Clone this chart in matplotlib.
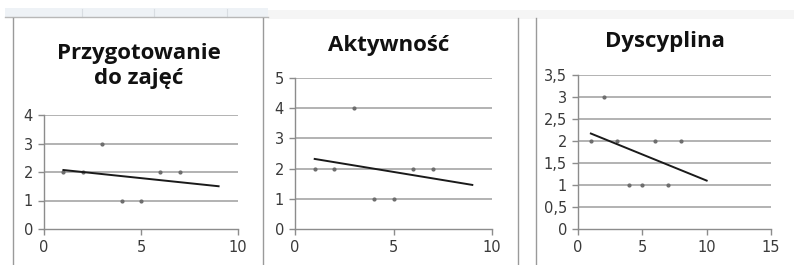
import matplotlib.pyplot as plt
from matplotlib.patches import Rectangle
from matplotlib.lines import Line2D
from matplotlib.ticker import FuncFormatter

# data
titles = ['Przygotowanie\ndo zajęć', 'Aktywność', 'Dyscyplina']

x1 = [1, 2, 3, 4, 5, 6, 7]
y1 = [2, 2, 3, 1, 1, 2, 2]
trend1_x = [1, 9]
trend1_y = [2.07, 1.5]

x2 = [1, 2, 3, 4, 5, 6, 7]
y2 = [2, 2, 4, 1, 1, 2, 2]
trend2_x = [1, 9]
trend2_y = [2.32, 1.46]

x3 = [1, 2, 3, 4, 5, 6, 7, 8]
y3 = [2, 3, 2, 1, 1, 2, 1, 2]
trend3_x = [1, 10]
trend3_y = [2.17, 1.1]

W, H = 794, 265
fig = plt.figure(figsize=(W/100, H/100), dpi=100)
fig.patch.set_facecolor('white')

def px(x0, x1_, ytop, ybot):
    return [x0/W, (H-ybot)/H, (x1_-x0)/W, (ybot-ytop)/H]

#excel sheet bits on top + chart frames
fig.add_artist(Rectangle((5/W, 1-17/H), 263/W, 9/H, transform=fig.transFigure, fc='#eef2f6', ec='none'))
fig.add_artist(Rectangle((268/W, 1-19/H), 526/W, 9/H, transform=fig.transFigure, fc='#f5f5f5', ec='none'))
for xv in [82, 154, 227]:
    fig.add_artist(Line2D([xv/W, xv/W], [1-17/H, 1-9/H], transform=fig.transFigure, color='#d8dde2', lw=0.8))
fig.add_artist(Line2D([5/W, 268/W], [1-17/H, 1-17/H], transform=fig.transFigure, color='#b8b8b8', lw=1))
for xv in [13, 263, 518, 536]:
    fig.add_artist(Line2D([xv/W, xv/W], [0, 1-18/H], transform=fig.transFigure, color='#9a9a9a', lw=1))

axes_pos = [px(44, 238, 115, 229), px(295, 492, 78, 229), px(578, 771, 75, 229)]
data = [(x1, y1, trend1_x, trend1_y), (x2, y2, trend2_x, trend2_y), (x3, y3, trend3_x, trend3_y)]
ylims = [(0, 4, 1), (0, 5, 1), (0, 3.5, 0.5)]
xlims = [10, 10, 15]
title_pos = [(139, 66), (389, 45), (665, 42)]

comma = FuncFormatter(lambda v, p: ('%g' % v).replace('.', ','))

for i in range(3):
    ax = fig.add_axes(axes_pos[i])
    xs, ys, tx, ty = data[i]
    lo, hi, step = ylims[i]
    yt = [lo + k*step for k in range(int(round((hi-lo)/step))+1)]
    for v in yt[1:]:
        ax.axhline(v, color='#a6a6a6', lw=1.2, zorder=1)
    ax.plot(xs, ys, 'o', ms=2, color='#6d6d6d', zorder=3)
    ax.plot(tx, ty, color='#1a1a1a', lw=1.4, zorder=4)
    ax.set_xlim(0, xlims[i])
    ax.set_ylim(lo, hi)
    ax.set_yticks(yt)
    ax.set_xticks([0, 5, 10] if xlims[i] == 10 else [0, 5, 10, 15])
    ax.yaxis.set_major_formatter(comma)
    for s in ['top', 'right']:
        ax.spines[s].set_visible(False)
    for s in ['left', 'bottom']:
        ax.spines[s].set_color('#8c8c8c')
        ax.spines[s].set_linewidth(1)
    ax.tick_params(colors='#8c8c8c', labelcolor='#3a3a3a', length=4, width=1, labelsize=10.5, pad=4)
    ax.set_facecolor('none')
    fig.text(title_pos[i][0]/W, 1-title_pos[i][1]/H, titles[i], ha='center', va='center',
             fontsize=16, fontweight='bold', family='Open Sans', color='#111111', linespacing=1.3)

plt.savefig('out.png', dpi=100)
